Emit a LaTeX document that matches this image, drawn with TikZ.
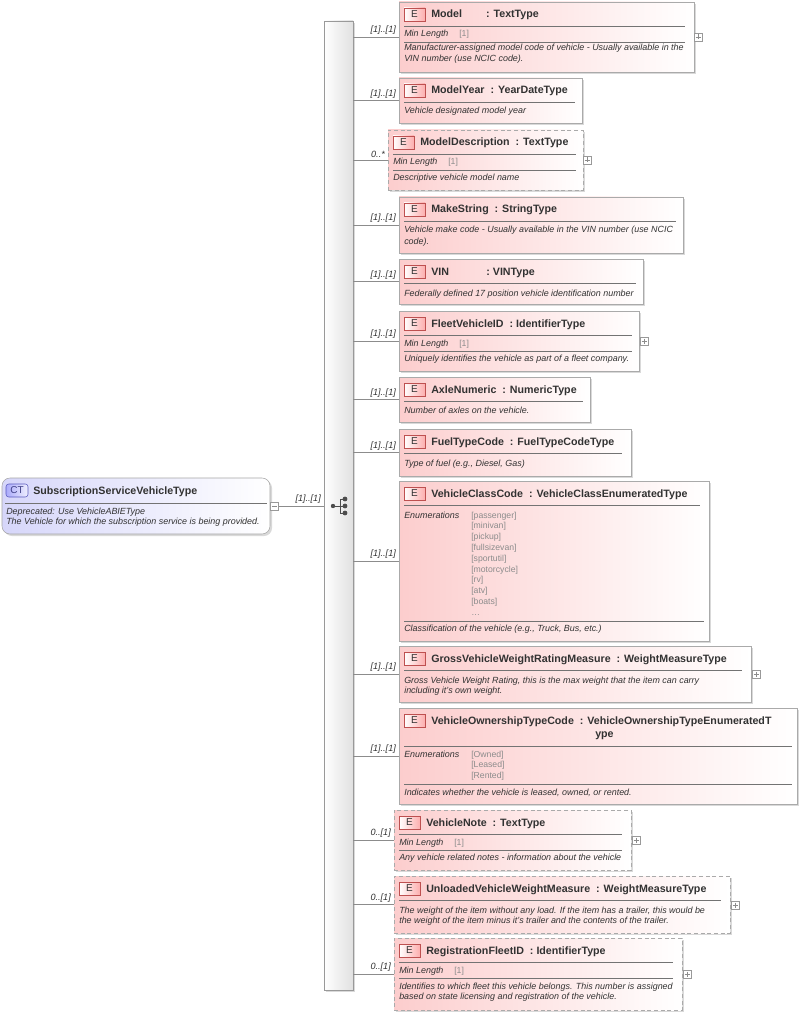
\documentclass[tikz,border=0pt]{standalone}
\usepackage{fontspec}
\setmainfont{Liberation Sans}
\usetikzlibrary{fit}
\definecolor{epink}{RGB}{252,205,205}
\definecolor{eborder}{RGB}{170,170,170}
\definecolor{badgered}{RGB}{190,80,80}
\definecolor{ctblue}{RGB}{214,214,250}
\definecolor{ctborder}{RGB}{90,90,190}
\definecolor{txtgray}{RGB}{50,50,50}
\tikzset{
  ebox/.style={left color=epink, right color=white, draw=eborder, inner sep=0pt},
  opt/.style={dashed, dash pattern=on 3pt off 2pt},
  badge/.style={left color=white, right color=epink!85!red, draw=badgered, line width=0.5pt},
  ttl/.style={anchor=base west, inner sep=0pt, font=\fontsize{8}{9}\selectfont\bfseries, text=txtgray},
  dsc/.style={anchor=base west, inner sep=0pt, font=\fontsize{6.7}{7}\selectfont\itshape, text=txtgray},
  val/.style={anchor=base west, inner sep=0pt, font=\fontsize{6.5}{7}\selectfont, text=black!45},
  sep/.style={draw=black!55, line width=0.4pt},
  conn/.style={draw=black!45, line width=0.4pt},
  card/.style={anchor=south east, inner sep=0pt, font=\fontsize{6.8}{7}\selectfont\itshape, text=txtgray},
  pm/.style={draw=black!40, fill=white, line width=0.3pt},
}
% element box: name x1 y1 x2 y2 style
\newcommand\ebox[6]{%
  \fill[black!15] (#2+2,#3+2) rectangle (#4+2,#5+2);
  \node[ebox,#6,fit={(#2,#3)(#4,#5)}] (#1) {};
  \draw[badge] (#2+5,#3+6) rectangle (#2+26,#3+19);
  \node[inner sep=0pt, font=\fontsize{7.5}{8}\selectfont, text=txtgray] at (#2+15.5,#3+12.5) {E};
}
% title: x1 y1 x2 text
\newcommand\etitle[4]{%
  \node[ttl] at (#1+32,#2+16) {#4};
  \draw[sep] (#1+5,#2+24) -- (#3-5,#2+24);
}
% min length row: x1 y1 x2
\newcommand\minlen[3]{%
  \node[dsc] at (#1+5,#2+35) {Min Length};
  \node[val] at (#1+60,#2+35) {[1]};
  \draw[sep] (#1+5,#2+40) -- (#3-5,#2+40);
}
\newcommand\plusbox[2]{%
  \draw[pm] (#1-4,#2-4) rectangle (#1+4,#2+4);
  \draw[black!45, line width=0.3pt] (#1-2.5,#2) -- (#1+2.5,#2) (#1,#2-2.5) -- (#1,#2+2.5);
}
% connector from sequence bar to node, with cardinality
\newcommand\link[2]{%
  \draw[conn] (seq.east |- #1.west) -- (#1.west);
  \node[card] at ([xshift=-2pt,yshift=1.5pt]#1.west) {#2};
}
\begin{document}
\begin{tikzpicture}[x=0.75pt,y=-0.75pt]
\useasboundingbox[fill=white] (0,0) rectangle (801,1016);

% sequence bar
\fill[black!15] (326,23) rectangle (355,992);
\node[left color=white, right color=black!12, draw=black!40, inner sep=0pt, fit={(324,21)(353,990)}] (seq) {};
% compositor icon
\fill[black!70] (333,506) circle (2.2);
\draw[black!70, line width=0.7pt] (333,506) -- (340,506) (340,499) -- (340,513)
  (340,499) -- (345,499) (340,506) -- (345,506) (340,513) -- (345,513);
\foreach \yy in {499,506,513} \fill[black!70] (345,\yy) circle (2.4);

% complex type
\fill[black!15, rounded corners=6pt] (4,480) rectangle (272,536);
\node[left color=ctblue, right color=white, draw=black!35, rounded corners=6pt, inner sep=0pt, fit={(2,478)(270,534)}] (ct) {};
\draw[left color=ctblue!80!blue, right color=ctblue!40, draw=ctborder, rounded corners=2pt] (6,484) rectangle (28,497);
\node[inner sep=0pt, font=\fontsize{7.5}{8}\selectfont, text=ctborder!70!black] at (17,490.5) {CT};
\node[ttl] at (33,494) {SubscriptionServiceVehicleType};
\draw[sep] (5,503) -- (267,503);
\node[dsc] at (6,514) {Deprecated: Use VehicleABIEType};
\node[dsc] at (6,524) {The Vehicle for which the subscription service is being provided.};
\draw[conn] (ct.east) -- (seq.west |- ct.east);
\node[card] at ([xshift=-2pt,yshift=1.5pt]seq.west |- ct.east) {[1]..[1]};
\draw[pm] (270,502) rectangle (278,510);
\draw[black!45, line width=0.3pt] (271.5,506) -- (276.5,506);

% Model
\ebox{m1}{399}{2}{694}{72}{}
\etitle{399}{2}{690}{Model\hspace{18pt}: TextType}
\minlen{399}{2}{690}
\node[dsc] at (404,51) {Manufacturer-assigned model code of vehicle - Usually available in the};
\node[dsc] at (404,62) {VIN number (use NCIC code).};
\plusbox{698}{37}
\link{m1}{[1]..[1]}

% ModelYear
\ebox{m2}{399}{78}{582}{123}{}
\etitle{399}{78}{580}{ModelYear\ \ : YearDateType}
\node[dsc] at (404,114) {Vehicle designated model year};
\link{m2}{[1]..[1]}

% ModelDescription
\ebox{m3}{388}{130}{583}{190}{opt}
\etitle{388}{130}{581}{ModelDescription\ \ : TextType}
\minlen{388}{130}{581}
\node[dsc] at (393,181) {Descriptive vehicle model name};
\plusbox{587}{160}
\link{m3}{0..*}

% MakeString
\ebox{m4}{399}{197}{683}{253}{}
\etitle{399}{197}{681}{MakeString\ \ : StringType}
\node[dsc] at (404,233) {Vehicle make code - Usually available in the VIN number (use NCIC};
\node[dsc] at (404,244) {code).};
\link{m4}{[1]..[1]}

% VIN
\ebox{m5}{399}{259}{643}{304}{}
\etitle{399}{259}{641}{VIN\hspace{28pt}: VINType}
\node[dsc] at (404,296) {Federally defined 17 position vehicle identification number};
\link{m5}{[1]..[1]}

% FleetVehicleID
\ebox{m6}{399}{311}{639}{371}{}
\etitle{399}{311}{637}{FleetVehicleID\ \ : IdentifierType}
\minlen{399}{311}{637}
\node[dsc] at (404,361) {Uniquely identifies the vehicle as part of a fleet company.};
\plusbox{644}{341}
\link{m6}{[1]..[1]}

% AxleNumeric
\ebox{m7}{399}{377}{590}{422}{}
\etitle{399}{377}{588}{AxleNumeric\ \ : NumericType}
\node[dsc] at (404,413) {Number of axles on the vehicle.};
\link{m7}{[1]..[1]}

% FuelTypeCode
\ebox{m8}{399}{429}{631}{476}{}
\etitle{399}{429}{627}{FuelTypeCode\ \ : FuelTypeCodeType}
\node[dsc] at (404,466) {Type of fuel (e.g., Diesel, Gas)};
\link{m8}{[1]..[1]}

% VehicleClassCode
\ebox{m9}{399}{481}{709}{641}{}
\etitle{399}{481}{705}{VehicleClassCode\ \ : VehicleClassEnumeratedType}
\node[dsc] at (404,518) {Enumerations};
\foreach \v [count=\i from 0] in {{[passenger]},{[minivan]},{[pickup]},{[fullsizevan]},{[sportutil]},{[motorcycle]},{[rv]},{[atv]},{[boats]}}
  \node[val] at (471,518+10.8*\i) {\v};
\node[val] at (471,615) {\ldots};
\draw[sep] (404,621) -- (704,621);
\node[dsc] at (404,631) {Classification of the vehicle (e.g., Truck, Bus, etc.)};
\link{m9}{[1]..[1]}

% GrossVehicleWeightRatingMeasure
\ebox{m10}{399}{646}{751}{702}{}
\etitle{399}{646}{747}{GrossVehicleWeightRatingMeasure\ \ : WeightMeasureType}
\node[dsc] at (404,683) {Gross Vehicle Weight Rating, this is the max weight that the item can carry};
\node[dsc] at (404,693) {including it's own weight.};
\plusbox{756}{674}
\link{m10}{[1]..[1]}

% VehicleOwnershipTypeCode
\ebox{m11}{399}{708}{797}{804}{}
\node[ttl] at (431,724) {VehicleOwnershipTypeCode\ \ : VehicleOwnershipTypeEnumeratedT};
\node[ttl] at (595,737) {ype};
\draw[sep] (404,746) -- (792,746);
\node[dsc] at (404,757) {Enumerations};
\foreach \v [count=\i from 0] in {{[Owned]},{[Leased]},{[Rented]}}
  \node[val] at (471,757+10.8*\i) {\v};
\draw[sep] (404,784) -- (792,784);
\node[dsc] at (404,795) {Indicates whether the vehicle is leased, owned, or rented.};
\link{m11}{[1]..[1]}

% VehicleNote
\ebox{m12}{394}{810}{631}{870}{opt}
\etitle{394}{810}{627}{VehicleNote\ \ : TextType}
\minlen{394}{810}{627}
\node[dsc] at (399,860) {Any vehicle related notes - information about the vehicle};
\plusbox{636}{840}
\link{m12}{0..[1]}

% UnloadedVehicleWeightMeasure
\ebox{m13}{394}{876}{730}{933}{opt}
\etitle{394}{876}{726}{UnloadedVehicleWeightMeasure\ \ : WeightMeasureType}
\node[dsc] at (399,913) {The weight of the item without any load. If the item has a trailer, this would be};
\node[dsc] at (399,923) {the weight of the item minus it's trailer and the contents of the trailer.};
\plusbox{735}{905}
\link{m13}{0..[1]}

% RegistrationFleetID
\ebox{m14}{394}{938}{682}{1010}{opt}
\etitle{394}{938}{678}{RegistrationFleetID\ \ : IdentifierType}
\minlen{394}{938}{678}
\node[dsc] at (399,989) {Identifies to which fleet this vehicle belongs. This number is assigned};
\node[dsc] at (399,999) {based on state licensing and registration of the vehicle.};
\plusbox{687}{974}
\link{m14}{0..[1]}
\end{tikzpicture}
\end{document}
